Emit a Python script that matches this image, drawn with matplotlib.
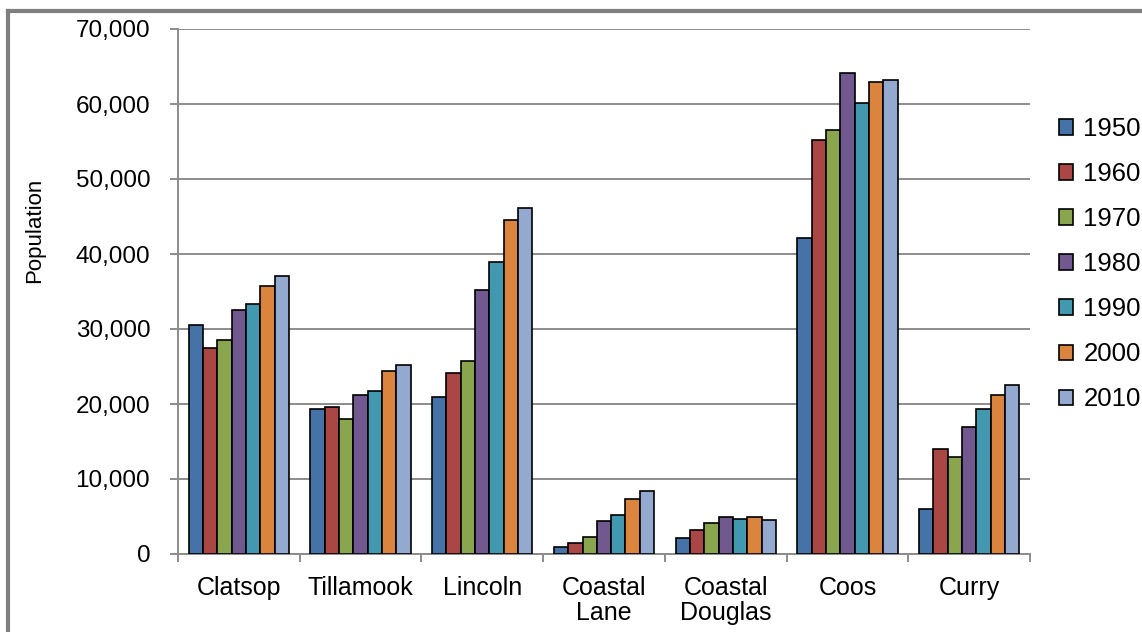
import matplotlib
matplotlib.use("Agg")
import matplotlib.pyplot as plt
from matplotlib.lines import Line2D
from matplotlib.patches import Patch
import numpy as np

plt.rcParams["font.family"] = ["Liberation Sans", "DejaVu Sans"]

counties = ["Clatsop", "Tillamook", "Lincoln", "Coastal\nLane", "Coastal\nDouglas", "Coos", "Curry"]
years = ["1950", "1960", "1970", "1980", "1990", "2000", "2010"]

pop_1950 = [30500, 19300, 20900, 1000, 2100, 42200, 6050]
pop_1960 = [27500, 19600, 24100, 1500, 3150, 55200, 14000]
pop_1970 = [28600, 18000, 25700, 2300, 4200, 56500, 12950]
pop_1980 = [32600, 21150, 35250, 4450, 5000, 64200, 16950]
pop_1990 = [33400, 21700, 38900, 5250, 4700, 60200, 19300]
pop_2000 = [35800, 24350, 44500, 7350, 4950, 62900, 21150]
pop_2010 = [37100, 25150, 46100, 8400, 4500, 63150, 22500]

series = [pop_1950, pop_1960, pop_1970, pop_1980, pop_1990, pop_2000, pop_2010]
colors = ["#4572A7", "#AA4643", "#89A54E", "#71588F", "#4198AF", "#DB843D", "#93A9CF"]

fig = plt.figure(figsize=(11.42, 6.32), dpi=100)
W, H = 1142, 632
ax = fig.add_axes([178 / W, 1 - 554 / H, (1030 - 178) / W, (554 - 29) / H])

x = np.arange(len(counties))
n = len(series)
bw = 1.0 / (n + 1.5)
for i, (vals, col) in enumerate(zip(series, colors)):
    offs = (i - (n - 1) / 2) * bw
    ax.bar(x + offs, vals, width=bw, color=col, edgecolor="black",
           linewidth=1.2, zorder=3, label=years[i])

grid_col = "#8C8C8C"
ax.set_xlim(-0.5, len(counties) - 0.5)
ax.set_ylim(0, 70000)
ax.set_yticks(np.arange(0, 70001, 10000))
ax.set_yticklabels([f"{v:,}" for v in range(0, 70001, 10000)])
ax.yaxis.grid(True, color=grid_col, linewidth=1.4, zorder=0)
ax.set_axisbelow(True)

# category boundaries as major ticks, names on minor ticks at centres
ax.set_xticks(np.arange(-0.5, len(counties), 1.0))
ax.set_xticklabels([])
ax.set_xticks(x, minor=True)
ax.set_xticklabels(counties, minor=True, fontsize=18, linespacing=1.05, va="top")
ax.tick_params(axis="x", which="major", length=6, width=1.4, color=grid_col, direction="out")
ax.tick_params(axis="x", which="minor", length=0, pad=16)
ax.tick_params(axis="y", length=6, width=1.4, color=grid_col, direction="out",
               labelsize=17.5, pad=14)

for side in ["top", "right"]:
    ax.spines[side].set_visible(False)
for side in ["left", "bottom"]:
    ax.spines[side].set_color(grid_col)
    ax.spines[side].set_linewidth(1.4)

ax.set_ylabel("Population", fontsize=16)
ax.yaxis.set_label_coords((45 - 178) / (1030 - 178), (554 - 230) / (554 - 29))

# legend on the right
handles = [Patch(facecolor=c, edgecolor="black", linewidth=1.2) for c in colors]
leg = fig.legend(handles, years, loc="upper left",
                 bbox_to_anchor=(1059 / W, 1 - 117 / H),
                 frameon=False, fontsize=18.5, handlelength=0.55, handleheight=0.55,
                 handletextpad=0.4, labelspacing=0.82, borderaxespad=0, borderpad=0)

# outer chart frame
fig.add_artist(Line2D([8 / W, 8 / W], [0, 1 - 11 / H], color="#7F7F7F", linewidth=3,
                      transform=fig.transFigure))
fig.add_artist(Line2D([8 / W, 1], [1 - 11 / H, 1 - 11 / H], color="#7F7F7F", linewidth=3,
                      transform=fig.transFigure))

fig.savefig("out.png", dpi=100)
